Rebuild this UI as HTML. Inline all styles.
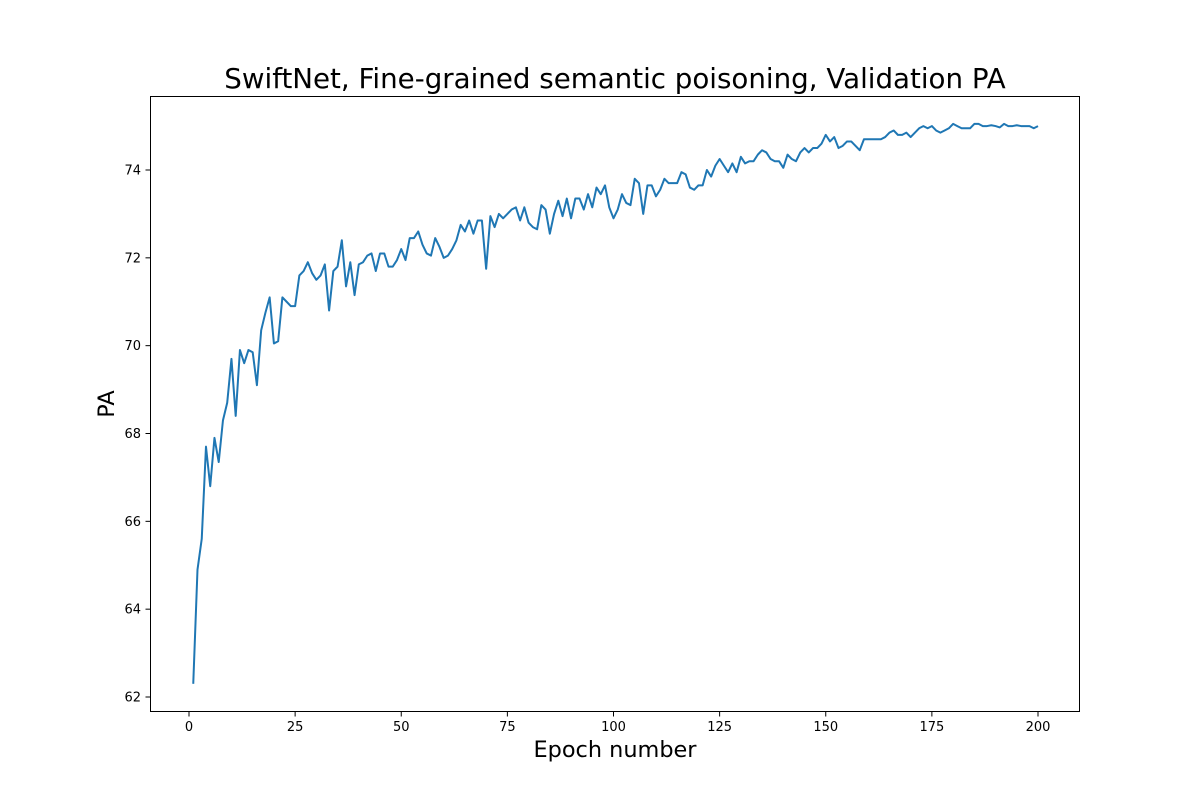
<!DOCTYPE html>
<html><head><meta charset="utf-8"><style>
body{margin:0;background:#fff;}
svg text{font-family:"DejaVu Sans","Liberation Sans",sans-serif;fill:#000;}
</style></head><body>
<svg id="chart" width="1200" height="800" xmlns="http://www.w3.org/2000/svg">
<rect width="1200" height="800" fill="#fff"/>
<text x="615" y="88" font-size="27.7" text-anchor="middle">SwiftNet, Fine-grained semantic poisoning, Validation PA</text>
<g id="ticks"></g>
<path id="line" fill="none" stroke="#1f77b4" stroke-width="2" stroke-linejoin="round"/>
<rect x="150.5" y="96.5" width="929" height="615" fill="none" stroke="#000" stroke-width="1"/>
<text x="615" y="757" font-size="22.4" text-anchor="middle">Epoch number</text>
<text transform="translate(114,404) rotate(-90)" font-size="22.4" text-anchor="middle">PA</text>
</svg>
<script>
const paValues=[62.3,64.9,65.6,67.7,66.8,67.9,67.35,68.3,68.7,69.7,68.4,69.9,69.6,69.9,69.85,69.1,70.35,70.75,71.1,70.05,70.1,71.1,71.0,70.9,70.9,71.6,71.7,71.9,71.65,71.5,71.6,71.85,70.8,71.7,71.8,72.4,71.35,71.9,71.15,71.85,71.9,72.05,72.1,71.7,72.1,72.1,71.8,71.8,71.95,72.2,71.95,72.45,72.45,72.6,72.3,72.1,72.05,72.45,72.25,72.0,72.05,72.2,72.4,72.75,72.6,72.85,72.55,72.85,72.85,71.75,72.95,72.7,73.0,72.9,73.0,73.1,73.15,72.85,73.15,72.8,72.7,72.65,73.2,73.1,72.55,73.0,73.3,72.95,73.35,72.9,73.35,73.35,73.1,73.45,73.15,73.6,73.45,73.65,73.15,72.9,73.1,73.45,73.25,73.2,73.8,73.7,73.0,73.65,73.65,73.4,73.55,73.8,73.7,73.7,73.7,73.95,73.9,73.6,73.55,73.65,73.65,74.0,73.85,74.1,74.25,74.1,73.95,74.15,73.95,74.3,74.15,74.2,74.2,74.35,74.45,74.4,74.25,74.2,74.2,74.05,74.35,74.25,74.2,74.4,74.5,74.4,74.5,74.5,74.6,74.8,74.65,74.75,74.5,74.55,74.65,74.65,74.55,74.45,74.7,74.7,74.7,74.7,74.7,74.75,74.85,74.9,74.8,74.8,74.85,74.75,74.85,74.95,75.0,74.95,75.0,74.9,74.85,74.9,74.95,75.05,75.0,74.95,74.95,74.95,75.05,75.05,75.0,75.0,75.02,75.0,74.97,75.05,75.0,75.0,75.02,75.0,75.0,75.0,74.95,75.0];
const xTicks=[0,25,50,75,100,125,150,175,200];
const yTicks=[62,64,66,68,70,72,74];
const xs=e=>189+(e)*(1038-189)/200;
const ys=v=>697-(v-62)*(697-170)/12;
let d='';
paValues.forEach((v,i)=>{d+=(i?'L':'M')+xs(i+1).toFixed(2)+','+ys(v).toFixed(2);});
document.getElementById('line').setAttribute('d',d);
const g=document.getElementById('ticks');
const NS='http://www.w3.org/2000/svg';
xTicks.forEach(t=>{
 const l=document.createElementNS(NS,'line');
 
 
 l.setAttribute('x1',xs(t));l.setAttribute('x2',xs(t));l.setAttribute('y1',712);l.setAttribute('y2',716.5);l.setAttribute('stroke','#000');
 g.appendChild(l);
 const tx=document.createElementNS(NS,'text');
 
 
 tx.setAttribute('x',xs(t));tx.setAttribute('y',731);tx.setAttribute('font-size','13');tx.setAttribute('text-anchor','middle');
 tx.textContent=t;g.appendChild(tx);
});
yTicks.forEach(t=>{
 const l=document.createElementNS(NS,'line');
 
 
 l.setAttribute('x1',145.5);l.setAttribute('x2',150);l.setAttribute('y1',ys(t));l.setAttribute('y2',ys(t));l.setAttribute('stroke','#000');
 g.appendChild(l);
 const tx=document.createElementNS(NS,'text');
 
 
 tx.setAttribute('x',141);tx.setAttribute('y',ys(t)+4.5);tx.setAttribute('font-size','13');tx.setAttribute('text-anchor','end');
 tx.textContent=t;g.appendChild(tx);
});
</script>
</body></html>
